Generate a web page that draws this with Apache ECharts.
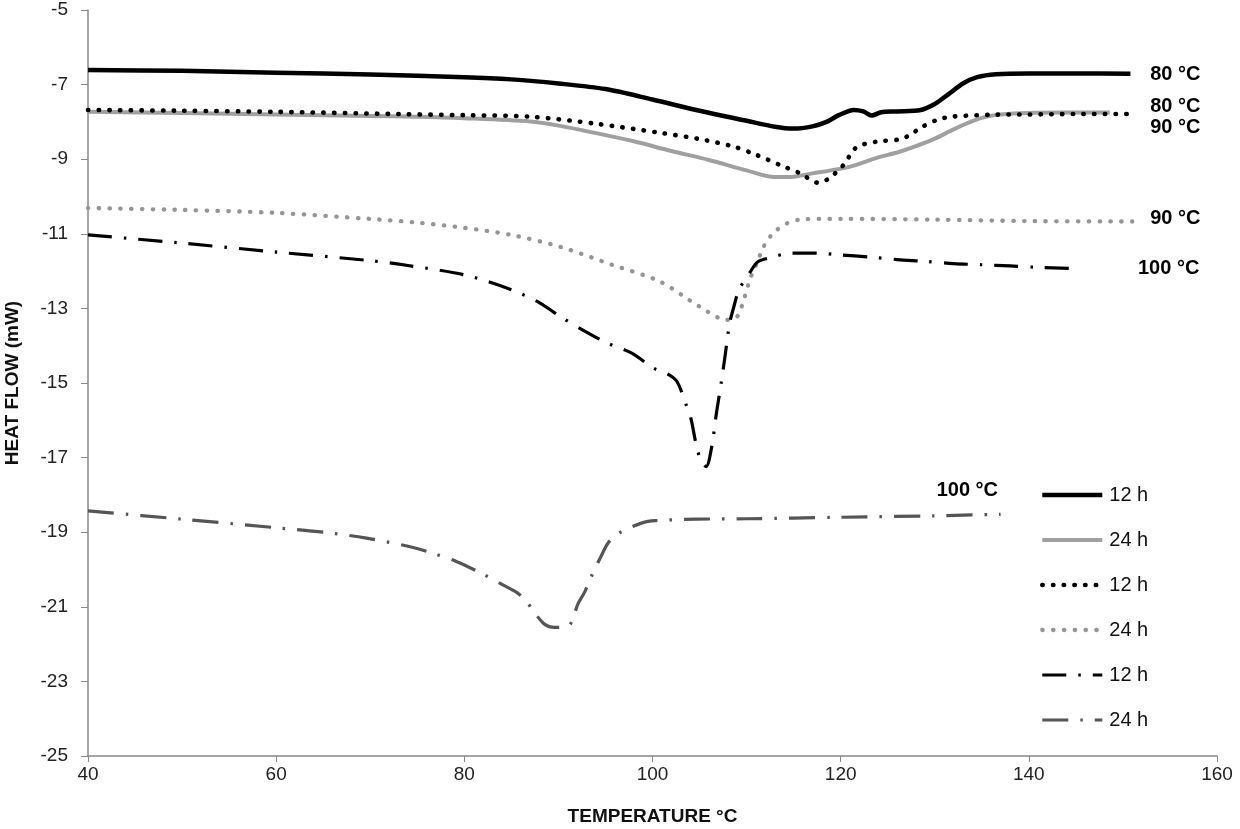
<!DOCTYPE html>
<html>
<head>
<meta charset="utf-8">
<script src="https://cdn.jsdelivr.net/npm/echarts@6/dist/echarts.min.js"></script>
<style>html,body{margin:0;padding:0;background:#fff}#c{width:1240px;height:829px}</style>
</head>
<body>
<div id="c"></div>
<script>
// X axis ticks
const X_MIN = 40, X_MAX = 160, X_STEP = 20;
const Y_MIN = -25, Y_MAX = -5, Y_STEP = 2;

// 80 °C, 12 h (solid black)
const T_80_12 = [40, 50, 60, 70, 80, 85, 90, 95, 100, 105, 110, 113, 115, 117, 118.5, 119.8, 121.4, 122.4, 123.3, 124.3, 126, 128.5, 130, 131.5, 133, 134.5, 136.5, 140, 145, 150.8];
const HF_80_12 = [-6.61, -6.63, -6.68, -6.73, -6.80, -6.86, -6.97, -7.12, -7.40, -7.70, -7.97, -8.13, -8.18, -8.12, -8.0, -7.82, -7.68, -7.72, -7.83, -7.74, -7.72, -7.68, -7.52, -7.25, -6.97, -6.8, -6.72, -6.70, -6.70, -6.71];

// 80 °C, 24 h (solid grey)
const T_80_24 = [40, 50, 60, 70, 75, 80, 87, 90, 94, 98, 102, 106, 110, 113, 115, 117, 119, 121, 124, 126, 128, 130, 132, 134, 135.5, 137, 140, 144, 148.6];
const HF_80_24 = [-7.73, -7.76, -7.80, -7.84, -7.86, -7.90, -7.99, -8.1, -8.3, -8.52, -8.78, -9.02, -9.3, -9.48, -9.47, -9.38, -9.3, -9.2, -8.95, -8.82, -8.65, -8.45, -8.2, -7.98, -7.86, -7.8, -7.76, -7.75, -7.75];

// 90 °C, 12 h (dotted black)
const T_90_12 = [40, 50, 60, 73, 80, 87, 94, 101, 105, 108.6, 111, 113.6, 115.7, 117.6, 118.9, 119.6, 120.5, 121, 121.8, 123.8, 126.2, 127.4, 128.4, 130.2, 131.8, 135.9, 140, 145, 151];
const HF_90_12 = [-7.68, -7.70, -7.73, -7.79, -7.82, -7.86, -8.05, -8.3, -8.46, -8.66, -8.88, -9.16, -9.38, -9.63, -9.5, -9.33, -9.1, -8.89, -8.66, -8.53, -8.47, -8.35, -8.17, -7.95, -7.86, -7.81, -7.8, -7.79, -7.79];

// 90 °C, 24 h (dotted grey)
const T_90_24 = [40, 50, 60, 70, 75, 80, 85, 90.2, 95.8, 100.8, 105, 107.9, 109, 109.8, 110.4, 111.1, 111.8, 112.8, 114.3, 116, 120, 130, 140, 151];
const HF_90_24 = [-10.31, -10.36, -10.44, -10.6, -10.7, -10.84, -11.03, -11.35, -11.84, -12.28, -12.95, -13.31, -13.22, -12.69, -12.19, -11.79, -11.35, -10.99, -10.72, -10.61, -10.6, -10.62, -10.66, -10.67];

// 100 °C, 12 h (dash-dot black)
const T_100_12 = [40, 50, 60, 70, 74, 80, 85, 88, 90.2, 92.6, 95.2, 97.8, 100.1, 101.5, 102.6, 103.6, 104.1, 104.6, 105.1, 105.7, 106.3, 106.8, 107.3, 107.7, 108.2, 108.6, 109.2, 110.4, 111.2, 112.7, 114.6, 117.4, 120, 123, 126, 129, 132, 135, 138, 141, 144.6];
const HF_100_12 = [-11.03, -11.25, -11.49, -11.72, -11.85, -12.1, -12.5, -12.85, -13.22, -13.58, -13.93, -14.2, -14.6, -14.74, -14.96, -15.6, -15.97, -16.6, -17.05, -17.24, -16.7, -15.8, -15.0, -14.3, -13.4, -13.0, -12.5, -12.02, -11.75, -11.63, -11.52, -11.52, -11.57, -11.62, -11.69, -11.74, -11.8, -11.83, -11.86, -11.9, -11.93];

// 100 °C, 24 h (dash-dot grey)
const T_100_24 = [40, 50, 60, 65.4, 69.6, 73.9, 76.5, 79.2, 81.8, 84.3, 85.6, 86.6, 88.4, 89.6, 91, 92.1, 92.8, 93.4, 94.6, 95.3, 96.4, 98.9, 100.3, 104.7, 110, 120, 130, 137];
const HF_100_24 = [-18.43, -18.65, -18.88, -19.01, -19.16, -19.37, -19.55, -19.79, -20.1, -20.44, -20.62, -20.86, -21.44, -21.55, -21.53, -20.91, -20.6, -20.24, -19.61, -19.28, -19.03, -18.75, -18.69, -18.65, -18.64, -18.6, -18.56, -18.52];

// curve annotation labels
const LABEL_TEXT = ['80 °C', '80 °C', '90 °C', '90 °C', '100 °C', '100 °C'];
const LABEL_T = [152.9, 152.9, 152.9, 152.9, 151.6, 130.2];
const LABEL_HF = [-6.74, -7.6, -8.14, -10.58, -11.92, -17.87];

const FONT = '"Liberation Sans", Arial, sans-serif';
const zip = (a, b) => a.map((v, i) => [v, b[i]]);

const defs = [
  { name: '12 h|a', t: T_80_12, v: HF_80_12, color: '#000', width: 4.5, type: 'solid', cap: 'butt' },
  { name: '24 h|a', t: T_80_24, v: HF_80_24, color: '#a0a0a0', width: 4, type: 'solid', cap: 'butt' },
  { name: '12 h|b', t: T_90_12, v: HF_90_12, color: '#000', width: 4.6, type: [0.4, 10.3], cap: 'round' },
  { name: '24 h|b', t: T_90_24, v: HF_90_24, color: '#959595', width: 4.3, type: [0.4, 10.4], cap: 'round' },
  { name: '12 h|c', t: T_100_12, v: HF_100_12, color: '#000', width: 3.2, type: [24, 12, 2.5, 12], cap: 'butt' },
  { name: '24 h|c', t: T_100_24, v: HF_100_24, color: '#555', width: 3.2, type: [26, 12, 2.5, 12], cap: 'butt' }
];

const series = defs.map(d => ({
  name: d.name,
  type: 'line',
  data: zip(d.t, d.v),
  symbol: 'none',
  showSymbol: false,
  smooth: 0.3,
  color: d.color,
  lineStyle: { color: d.color, width: d.width, type: d.type, cap: d.cap, join: 'round' },
  silent: true,
  animation: false
}));

series.push({
  name: 'labels',
  type: 'scatter',
  symbolSize: 0,
  silent: true,
  animation: false,
  itemStyle: { opacity: 1 },
  data: LABEL_TEXT.map((s, i) => ({ name: s, value: [LABEL_T[i], LABEL_HF[i]] })),
  label: {
    show: true, position: 'right', distance: 0, opacity: 1,
    formatter: p => p.name,
    fontFamily: FONT, fontWeight: 'bold', fontSize: 20, color: '#000'
  }
});

const chart = echarts.init(document.getElementById('c'), null, { renderer: 'canvas' });
chart.setOption({
  animation: false,
  backgroundColor: '#fff',
  grid: { left: 88, right: 23, top: 10, bottom: 73, containLabel: false, outerBoundsMode: 'none' },
  legend: {
    orient: 'vertical',
    left: 1035,
    top: 480,
    data: defs.map(d => d.name),
    itemWidth: 60,
    itemHeight: 14,
    itemGap: 25,
    selectedMode: false,
    itemStyle: { opacity: 0 },
    lineStyle: { width: 'inherit', type: 'inherit', cap: 'inherit' },
    formatter: n => n.split('|')[0],
    textStyle: { fontFamily: FONT, fontSize: 20, color: '#111', padding: [0, 0, 0, 2] }
  },
  xAxis: {
    type: 'value', min: X_MIN, max: X_MAX, interval: X_STEP,
    name: 'TEMPERATURE °C', nameLocation: 'middle', nameGap: 51,
    nameTextStyle: { fontFamily: FONT, fontWeight: 'bold', fontSize: 19, color: '#111' },
    axisLine: { show: true, onZero: false, lineStyle: { color: '#888', width: 1.5 } },
    axisTick: { show: true, inside: false, length: 6, lineStyle: { color: '#888' } },
    axisLabel: { fontFamily: FONT, fontSize: 19, color: '#222', margin: 9 },
    splitLine: { show: false }
  },
  yAxis: {
    type: 'value', min: Y_MIN, max: Y_MAX, interval: Y_STEP,
    name: 'HEAT FLOW (mW)', nameLocation: 'middle', nameGap: 66, nameRotate: 90,
    nameTextStyle: { fontFamily: FONT, fontWeight: 'bold', fontSize: 19, color: '#111' },
    axisLine: { show: true, onZero: false, lineStyle: { color: '#888', width: 1.5 } },
    axisTick: { show: true, inside: false, length: 7, lineStyle: { color: '#888' } },
    axisLabel: { fontFamily: FONT, fontSize: 19, color: '#222', margin: 20 },
    splitLine: { show: false }
  },
  series: series
});
</script>
</body>
</html>
